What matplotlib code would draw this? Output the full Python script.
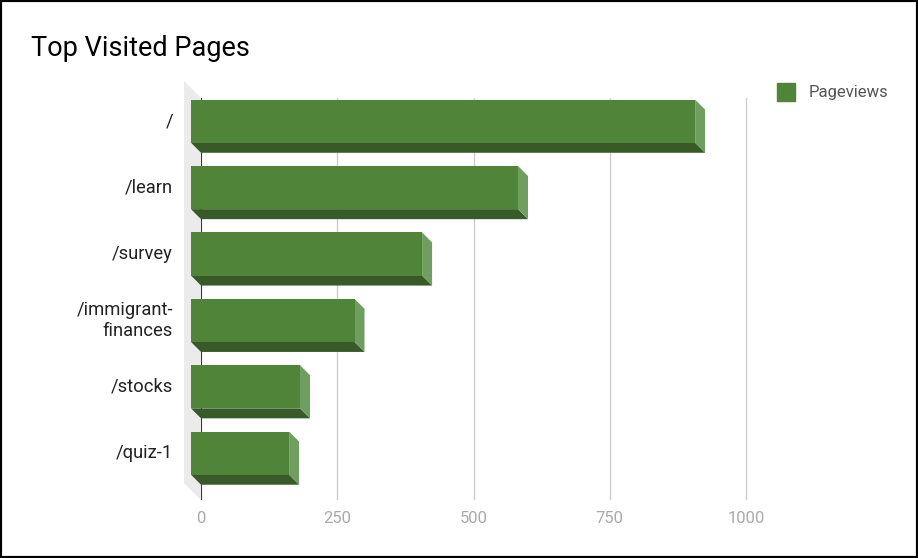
import matplotlib.pyplot as plt
from matplotlib.patches import Polygon, Rectangle
from matplotlib.transforms import ScaledTranslation, IdentityTransform

plt.rcParams['font.family'] = ['Roboto', 'DejaVu Sans']

# data
pages = ['/', '/learn', '/survey', '/immigrant-\nfinances', '/stocks', '/quiz-1']
pageviews = [925, 600, 424, 300, 200, 180]
x_ticks = [0, 250, 500, 750, 1000]

front_col = '#4f8439'
bottom_col = '#385a29'
side_col = '#6e9f5e'
wall_col = '#ebebeb'

W, H = 918, 558
fig = plt.figure(figsize=(W / 100, H / 100), dpi=100)
x_max = 1010
ax = fig.add_axes([201 / W, (H - 500) / H, 545 * x_max / 1000 / W, 402 / H])

depth = 10   # px, 3d offset of the bar front
wall = 17    # px, depth of the left wall
bar_h = 0.65
y_lim = (len(pages) - 0.5 + 0.055, -0.5)

# front faces, shifted left/up from the back plane
front_tf = ax.transData + ScaledTranslation(-depth / 100, depth / 100, fig.dpi_scale_trans)
ypos = list(range(len(pages)))
ax.barh(ypos, pageviews, height=bar_h, color=front_col, transform=front_tf,
        zorder=5, clip_on=False)
ax.set_xlim(0, x_max)
ax.set_ylim(*y_lim)

# side + bottom faces in pixel space
for i, v in zip(ypos, pageviews):
    (bl_x, bl_y), (br_x, br_y), (tr_x, tr_y) = ax.transData.transform(
        [[0, i + bar_h / 2], [v, i + bar_h / 2], [v, i - bar_h / 2]])
    bottom = [(bl_x - depth, bl_y + depth), (br_x - depth, br_y + depth),
              (br_x, br_y), (bl_x, bl_y)]
    side = [(tr_x - depth, tr_y + depth), (tr_x, tr_y),
            (br_x, br_y), (br_x - depth, br_y + depth)]
    ax.add_patch(Polygon(bottom, closed=True, color=bottom_col, lw=0,
                         transform=IdentityTransform(), zorder=4, clip_on=False))
    ax.add_patch(Polygon(side, closed=True, color=side_col, lw=0,
                         transform=IdentityTransform(), zorder=4, clip_on=False))

# left wall
ax_bl = ax.transAxes.transform((0, 0))
ax_tl = ax.transAxes.transform((0, 1))
wall_pts = [(ax_tl[0] - wall, ax_tl[1] + wall), (ax_tl[0], ax_tl[1]),
            (ax_bl[0], ax_bl[1]), (ax_bl[0] - wall, ax_bl[1] + wall)]
ax.add_patch(Polygon(wall_pts, closed=True, color=wall_col, lw=0,
                     transform=IdentityTransform(), zorder=1, clip_on=False))

ax.axvline(0, color='#333333', lw=1.4, zorder=3)
ax.set_xticks(x_ticks)
ax.set_xticklabels([str(t) for t in x_ticks])
ax.grid(axis='x', color='#cccccc', lw=1)
ax.set_axisbelow(True)
ax.tick_params(axis='x', length=0, pad=8, labelcolor='#aaaaaa', labelsize=12)
ax.set_yticks([])
for s in ax.spines.values():
    s.set_visible(False)

# category labels, aligned with the front faces
label_tf = ax.transData + ScaledTranslation(-28 / 100, depth / 100, fig.dpi_scale_trans)
for i, name in zip(ypos, pages):
    ax.text(0, i, name, transform=label_tf, ha='right', va='center',
            fontsize=13.2, color='#222222', linespacing=1.25)

fig.text(31 / W, 1 - 56 / H, 'Top Visited Pages', fontsize=19.5, ha='left', va='baseline')

# legend
fig.add_artist(Rectangle((777 / W, 1 - 101 / H), 18 / W, 18 / H,
                         transform=fig.transFigure, color=front_col))
fig.text(809 / W, 1 - 92 / H, 'Pageviews', fontsize=12, color='#555555', va='center')

fig.add_artist(Rectangle((0, 0), 1, 1, transform=fig.transFigure, fill=False,
                         edgecolor='black', lw=3))

fig.savefig('out.png', dpi=100)
